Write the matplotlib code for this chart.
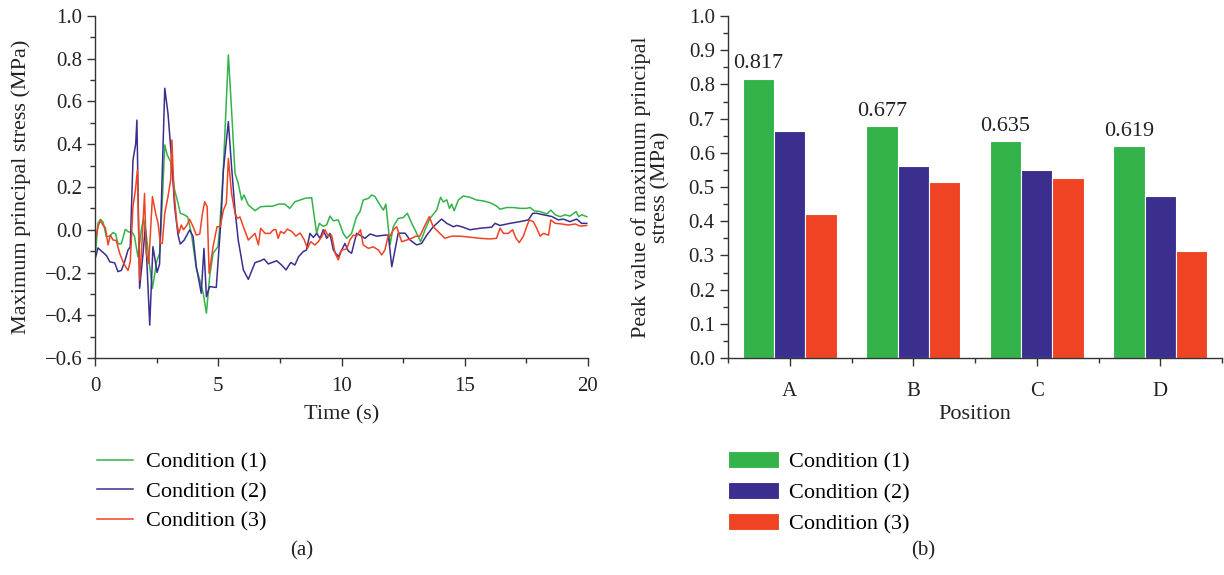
import matplotlib.pyplot as plt
import numpy as np
from matplotlib.ticker import MultipleLocator

plt.rcParams['font.family'] = ['Liberation Serif', 'DejaVu Serif']

## colours used in both panels
c_green = '#33b34a'
c_blue = '#3a2f8f'
c_red = '#ef4324'
c_axis = '#333333'
c_text = '#222222'

## (a) time history
t_1 = [0.03, 0.12, 0.22, 0.33, 0.46, 0.6, 0.73, 0.84, 0.93, 1.07, 1.23, 1.36, 1.51, 1.6, 1.74, 1.88, 1.97, 2.08,
       2.22, 2.33, 2.5, 2.62, 2.72, 2.83, 2.93, 3.07, 3.23, 3.37, 3.46, 3.62, 3.76, 3.91, 4.11, 4.25, 4.39, 4.52,
       4.65, 4.79, 4.99, 5.07, 5.21, 5.41, 5.54, 5.68, 5.81, 5.95, 6.04, 6.22, 6.49, 6.72, 6.99, 7.2, 7.45, 7.7,
       7.9, 8.11, 8.32, 8.52, 8.79, 8.99, 9.1, 9.26, 9.4, 9.53, 9.67, 9.87, 10.07, 10.21, 10.41, 10.61, 10.75,
       10.88, 11.09, 11.23, 11.36, 11.56, 11.7, 11.8, 11.97, 12.1, 12.3, 12.51, 12.67, 12.85, 13.05, 13.21, 13.39,
       13.59, 13.86, 14.02, 14.13, 14.27, 14.38, 14.47, 14.57, 14.74, 14.94, 15.21, 15.48, 15.75, 16.02, 16.29,
       16.43, 16.7, 16.97, 17.24, 17.51, 17.65, 17.81, 18.06, 18.33, 18.49, 18.67, 18.87, 19.07, 19.27, 19.52,
       19.62, 19.75, 19.95]
v_1 = [-0.095, 0.03, 0.049, 0.035, -0.032, -0.03, -0.013, -0.02, -0.067, -0.065, 0.002, -0.01, -0.012, -0.03,
       -0.126, 0.0, 0.053, -0.02, -0.173, -0.274, -0.15, -0.11, 0.108, 0.397, 0.35, 0.318, 0.186, 0.124, 0.077,
       0.07, 0.06, -0.017, -0.18, -0.235, -0.297, -0.39, -0.22, -0.11, -0.079, 0.03, 0.295, 0.818, 0.56, 0.264,
       0.217, 0.139, 0.163, 0.116, 0.089, 0.108, 0.11, 0.11, 0.12, 0.12, 0.1, 0.131, 0.139, 0.147, 0.15, -0.017,
       0.03, 0.016, 0.023, 0.064, 0.042, 0.046, -0.017, -0.04, -0.017, 0.061, 0.085, 0.139, 0.147, 0.163, 0.155,
       0.116, 0.092, 0.12, -0.071, 0.014, 0.053, 0.057, 0.077, 0.03, -0.017, -0.056, 0.0, 0.053, 0.092, 0.152,
       0.13, 0.14, 0.1, 0.12, 0.089, 0.139, 0.158, 0.152, 0.139, 0.135, 0.127, 0.111, 0.096, 0.104, 0.104, 0.1,
       0.1, 0.104, 0.089, 0.085, 0.074, 0.092, 0.07, 0.061, 0.07, 0.064, 0.085, 0.061, 0.07, 0.061]

t_2 = [0.03, 0.12, 0.46, 0.6, 0.8, 0.93, 1.07, 1.2, 1.34, 1.43, 1.54, 1.65, 1.7, 1.81, 1.95, 2.04, 2.22, 2.35,
       2.52, 2.62, 2.72, 2.83, 2.96, 3.1, 3.23, 3.37, 3.46, 3.62, 3.84, 3.98, 4.11, 4.31, 4.42, 4.52, 4.65, 4.92,
       5.12, 5.21, 5.41, 5.54, 5.68, 5.81, 6.02, 6.22, 6.49, 6.72, 6.86, 7.03, 7.37, 7.57, 7.75, 7.94, 8.11, 8.26,
       8.45, 8.58, 8.72, 8.86, 8.99, 9.13, 9.26, 9.4, 9.53, 9.67, 9.87, 10.14, 10.28, 10.41, 10.61, 10.82, 10.95,
       11.16, 11.43, 11.76, 11.9, 12.04, 12.17, 12.3, 12.58, 12.78, 13.05, 13.25, 13.46, 13.72, 14.06, 14.27,
       14.54, 14.67, 14.88, 15.21, 15.62, 16.09, 16.23, 16.43, 16.84, 17.24, 17.58, 17.76, 17.92, 18.19, 18.53,
       18.8, 19.0, 19.27, 19.54, 19.74, 19.95]
v_2 = [-0.126, -0.085, -0.12, -0.15, -0.155, -0.196, -0.19, -0.15, -0.095, -0.08, 0.326, 0.4, 0.513, -0.274,
       -0.11, 0.014, -0.446, -0.079, -0.2, -0.16, 0.233, 0.662, 0.545, 0.342, 0.108, -0.025, -0.067, -0.048,
       -0.001, -0.032, -0.173, -0.297, -0.087, -0.313, -0.266, -0.27, 0.061, 0.28, 0.506, 0.295, 0.092, -0.048,
       -0.188, -0.232, -0.154, -0.145, -0.137, -0.16, -0.145, -0.165, -0.188, -0.153, -0.165, -0.126, -0.102,
       -0.095, -0.017, -0.036, -0.017, -0.04, 0.0, -0.04, -0.017, -0.095, -0.126, -0.064, -0.1, -0.11, -0.017,
       -0.03, -0.04, -0.02, -0.03, -0.025, -0.025, -0.173, -0.095, -0.016, -0.016, -0.048, -0.071, -0.064,
       -0.025, 0.014, 0.05, 0.03, 0.014, 0.02, 0.014, 0.0, 0.007, 0.012, 0.03, 0.02, 0.03, 0.038, 0.046, 0.077,
       0.077, 0.07, 0.062, 0.046, 0.05, 0.038, 0.05, 0.03, 0.03]

t_3 = [0.03, 0.12, 0.22, 0.33, 0.42, 0.53, 0.62, 0.73, 0.86, 1.0, 1.16, 1.34, 1.43, 1.54, 1.64, 1.72, 1.81, 1.92,
       2.01, 2.08, 2.18, 2.33, 2.46, 2.56, 2.65, 2.73, 2.83, 2.96, 3.07, 3.12, 3.2, 3.32, 3.4, 3.5, 3.59, 3.73,
       3.84, 3.98, 4.11, 4.25, 4.36, 4.45, 4.55, 4.63, 4.79, 4.95, 5.08, 5.21, 5.33, 5.41, 5.54, 5.68, 5.77, 5.88,
       6.02, 6.22, 6.36, 6.49, 6.63, 6.72, 6.9, 7.1, 7.24, 7.34, 7.43, 7.53, 7.67, 7.8, 7.98, 8.15, 8.32, 8.48,
       8.62, 8.75, 8.92, 9.06, 9.2, 9.33, 9.47, 9.6, 9.74, 9.87, 10.0, 10.21, 10.34, 10.48, 10.61, 10.77, 10.88,
       11.09, 11.29, 11.5, 11.63, 11.76, 11.9, 11.97, 12.1, 12.24, 12.44, 12.64, 12.85, 13.02, 13.18, 13.39,
       13.56, 13.72, 13.92, 14.2, 14.47, 14.81, 15.21, 15.62, 16.02, 16.29, 16.43, 16.57, 16.77, 16.94, 17.08,
       17.21, 17.38, 17.51, 17.62, 17.78, 17.92, 18.06, 18.19, 18.4, 18.49, 18.67, 18.94, 19.2, 19.48, 19.68,
       19.95]
v_3 = [-0.04, 0.014, 0.043, 0.02, 0.01, -0.071, -0.025, -0.048, -0.05, -0.11, -0.157, -0.19, -0.15, 0.108,
       0.186, 0.28, -0.235, -0.032, 0.17, -0.11, -0.157, 0.155, 0.077, 0.03, -0.064, -0.064, 0.077, 0.155, 0.233,
       0.42, 0.186, 0.03, -0.017, 0.022, 0.0, 0.022, 0.049, 0.014, -0.025, -0.02, 0.077, 0.131, 0.108, -0.204,
       -0.079, 0.014, 0.014, 0.092, 0.124, 0.334, 0.17, 0.077, 0.053, 0.06, 0.014, -0.048, -0.032, -0.017,
       -0.071, 0.007, -0.017, -0.017, 0.0, 0.0, -0.04, -0.008, -0.017, 0.003, -0.008, -0.03, -0.015, -0.045,
       -0.087, -0.056, -0.071, -0.056, -0.032, 0.0, -0.032, -0.025, -0.11, -0.141, -0.095, -0.09, -0.048,
       -0.025, -0.03, 0.0, -0.071, -0.087, -0.08, -0.095, -0.118, -0.095, -0.025, -0.03, 0.0, 0.014, -0.056,
       -0.048, -0.04, -0.03, -0.03, 0.022, 0.061, 0.014, -0.009, -0.04, -0.03, -0.03, -0.035, -0.04, -0.043,
       -0.04, 0.007, -0.017, -0.017, 0.0, -0.04, -0.06, -0.03, 0.014, 0.046, 0.038, 0.007, -0.03, -0.017,
       -0.025, 0.046, 0.03, 0.027, 0.022, 0.027, 0.017, 0.02]

## (b) peak values
positions = ['A', 'B', 'C', 'D']
peak_1 = [0.817, 0.677, 0.635, 0.619]
peak_2 = [0.664, 0.561, 0.551, 0.473]
peak_3 = [0.421, 0.515, 0.525, 0.313]

labels = ['Condition (1)', 'Condition (2)', 'Condition (3)']

fs_tick = 15
fs_lab = 16


def style_axes(ax):
    for s in ['top', 'right']:
        ax.spines[s].set_visible(False)
    for s in ['left', 'bottom']:
        ax.spines[s].set_color(c_axis)
        ax.spines[s].set_linewidth(1.0)
    ax.tick_params(which='major', direction='out', length=6, width=1.0, color=c_axis,
                   labelsize=fs_tick, labelcolor=c_text)
    ax.tick_params(which='minor', direction='out', length=3.5, width=1.0, color=c_axis)


fig = plt.figure(figsize=(12.24, 5.75), dpi=100)

## Left panel
ax1 = fig.add_axes([95 / 1224, 1 - 358 / 575, 493 / 1224, 342 / 575])
ax1.plot(t_1, v_1, color=c_green, lw=1.1, label=labels[0])
ax1.plot(t_2, v_2, color=c_blue, lw=1.1, label=labels[1])
ax1.plot(t_3, v_3, color=c_red, lw=1.1, label=labels[2])
ax1.set_xlim(0, 20)
ax1.set_ylim(-0.6, 1.0)
ax1.xaxis.set_major_locator(MultipleLocator(5))
ax1.xaxis.set_minor_locator(MultipleLocator(2.5))
ax1.yaxis.set_minor_locator(MultipleLocator(0.1))
ax1.set_yticks(np.arange(-0.6, 1.01, 0.2))
ax1.set_yticklabels(['\u22120.6', '\u22120.4', '\u22120.2', '0.0', '0.2', '0.4', '0.6', '0.8', '1.0'])
style_axes(ax1)
ax1.tick_params(axis='y', which='major', pad=3)
ax1.tick_params(axis='x', which='major', pad=8)
ax1.set_xlabel('Time (s)', fontsize=fs_lab, color=c_text, labelpad=6)
ax1.set_ylabel('Maximum principal stress (MPa)', fontsize=fs_lab, color=c_text, labelpad=10)
ax1.legend(loc='upper left', bbox_to_anchor=(97 / 1224, 1 - 452 / 575), bbox_transform=fig.transFigure,
           frameon=False, fontsize=fs_lab, handlelength=1.6, handletextpad=0.6, labelspacing=0.4,
           borderpad=0, borderaxespad=0)

## Right panel
ax2 = fig.add_axes([728 / 1224, 1 - 358 / 575, 494 / 1224, 342 / 575])
x = np.arange(len(positions))
w = 0.255
for k, (vals, col, lab) in enumerate(zip([peak_1, peak_2, peak_3], [c_green, c_blue, c_red], labels)):
    ax2.bar(x + (k - 1) * w, vals, width=w, color=col, edgecolor='white', linewidth=0.8, label=lab)
for xi, v in zip(x, peak_1):
    ax2.text(xi - w, v + 0.015, '%.3f' % v, ha='center', va='bottom', fontsize=fs_lab, color=c_text)
ax2.set_xlim(-0.5, 3.5)
ax2.set_ylim(0, 1.0)
ax2.set_xticks(x)
ax2.set_xticklabels(positions)
ax2.set_xticks(np.arange(-0.5, 3.6, 1.0), minor=True)
ax2.yaxis.set_major_locator(MultipleLocator(0.1))
ax2.yaxis.set_minor_locator(MultipleLocator(0.05))
ax2.yaxis.set_major_formatter(plt.FormatStrFormatter('%.1f'))
style_axes(ax2)
ax2.tick_params(axis='x', which='major', pad=11)
ax2.set_xlabel('Position', fontsize=fs_lab, color=c_text, labelpad=3)
ax2.set_ylabel('Peak value of maximum principal\nstress (MPa)', fontsize=fs_lab, color=c_text,
               labelpad=13, linespacing=1.0)
ax2.legend(loc='upper left', bbox_to_anchor=(728 / 1224, 1 - 451 / 575), bbox_transform=fig.transFigure,
           frameon=False, fontsize=fs_lab, handlelength=2.3, handleheight=0.8, handletextpad=0.45,
           labelspacing=0.45, borderpad=0, borderaxespad=0)

fig.text(302 / 1224, 1 - 551 / 575, '(a)', ha='center', va='center', fontsize=fs_tick, color=c_text)
fig.text(923 / 1224, 1 - 551 / 575, '(b)', ha='center', va='center', fontsize=fs_tick, color=c_text)

fig.savefig('out.png', dpi=100)
